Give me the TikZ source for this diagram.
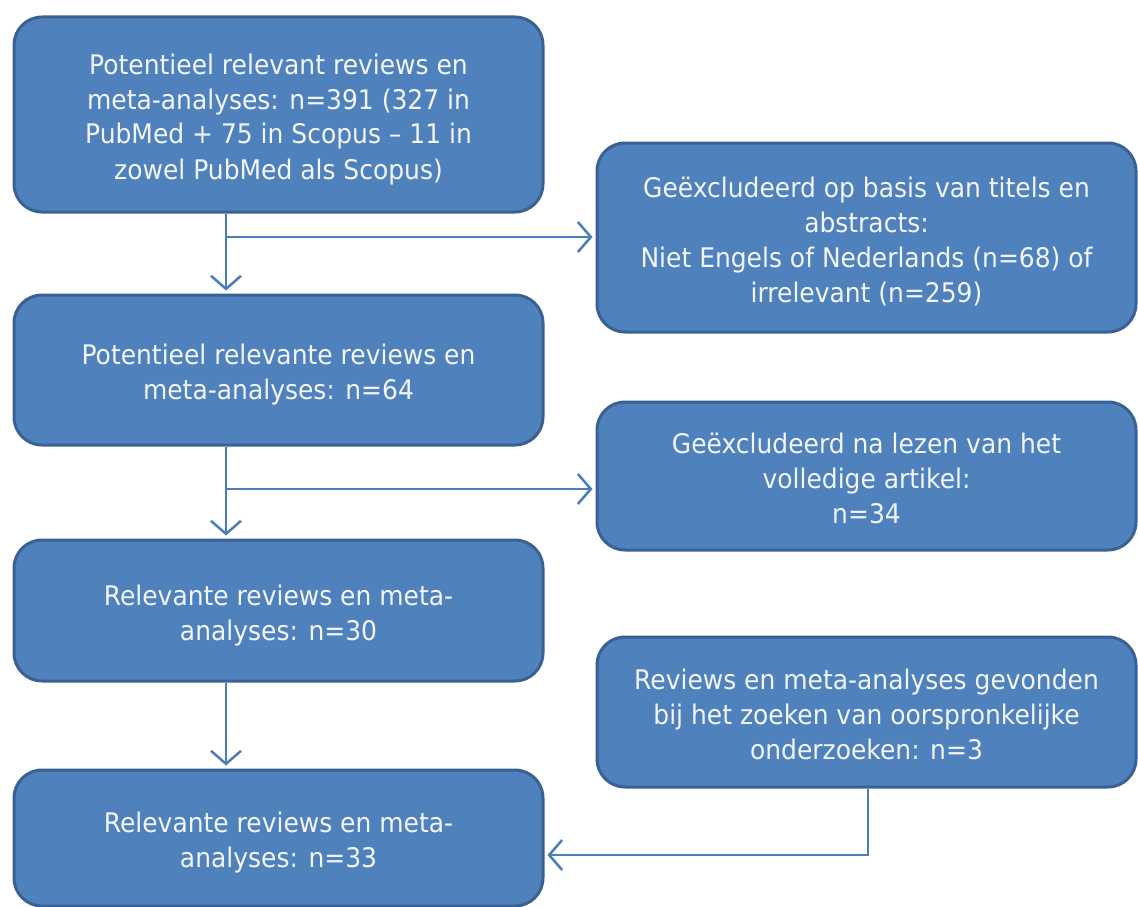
\documentclass[tikz,border=0pt]{standalone}
\usepackage{fontspec}
\setmainfont{DejaVu Sans}[FakeStretch=0.925]
\usetikzlibrary{arrows.meta}
\definecolor{boxfill}{HTML}{4F81BD}
\definecolor{boxline}{HTML}{3A6194}
\definecolor{arrowc}{HTML}{4A7EBB}
\definecolor{txt}{HTML}{F2F5FA}
\newcommand{\bxtxt}[1]{\raisebox{-5pt}[\height][\depth]{\begin{tabular}{@{}c@{}}#1\end{tabular}}}
\begin{document}
\begin{tikzpicture}[x=1pt,y=-1pt,
  flowbox/.style={draw=boxline, line width=3pt, fill=boxfill, rounded corners=28pt,
    text=txt, inner sep=0pt,
    font=\fontsize{27}{35}\selectfont},
  conn/.style={draw=arrowc, line width=2.5pt},
  arr/.style={conn, -{Straight Barb[length=13pt,width=30pt,line width=2.5pt]}, shorten >=3pt}
]
\useasboundingbox (0,0) rectangle (1138,907);
\clip (0,0) rectangle (1138,907);
\fill[white] (0,0) rectangle (1138,907);

\node[flowbox, minimum width=529pt, minimum height=195pt] (A) at (278.5,114.5)
  {\bxtxt{Potentieel relevant reviews en\\meta-analyses: n=391 (327 in\\PubMed + 75 in Scopus -- 11 in\\zowel PubMed als Scopus)}};
\node[flowbox, minimum width=539pt, minimum height=189pt] (B) at (866.5,237.5)
  {\bxtxt{Geëxcludeerd op basis van titels en\\abstracts:\\Niet Engels of Nederlands (n=68) of\\irrelevant (n=259)}};
\node[flowbox, minimum width=529pt, minimum height=150pt] (C) at (278.5,370)
  {\bxtxt{Potentieel relevante reviews en\\meta-analyses: n=64}};
\node[flowbox, minimum width=539pt, minimum height=148pt] (D) at (866.5,476)
  {\bxtxt{Geëxcludeerd na lezen van het\\volledige artikel:\\n=34}};
\node[flowbox, minimum width=529pt, minimum height=141pt] (E) at (278.5,610.5)
  {\bxtxt{Relevante reviews en meta-\\analyses: n=30}};
\node[flowbox, minimum width=539pt, minimum height=150pt] (F) at (866.5,712)
  {\bxtxt{Reviews en meta-analyses gevonden\\bij het zoeken van oorspronkelijke\\onderzoeken: n=3}};
\node[flowbox, minimum width=529pt, minimum height=136pt] (G) at (278.5,838)
  {\bxtxt{Relevante reviews en meta-\\analyses: n=33}};

\coordinate (j1) at (226,237);
\coordinate (j2) at (226,489);
\coordinate (j3) at (868,855);

\draw[arr] (A.south -| j1) -- (C.north -| j1);
\draw[arr] (j1) -- (B.west |- j1);
\draw[arr] (C.south -| j2) -- (E.north -| j2);
\draw[arr] (j2) -- (D.west |- j2);
\draw[arr] (E.south -| j2) -- (G.north -| j2);
\draw[arr] (F.south -| j3) -- (j3) -- (G.east |- j3);
\end{tikzpicture}
\end{document}
